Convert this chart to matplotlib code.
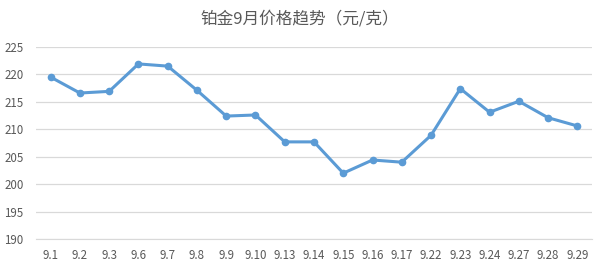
import matplotlib.pyplot as plt

plt.rcParams['font.family'] = ['Noto Sans CJK SC', 'DejaVu Sans']

dates = ['9.1', '9.2', '9.3', '9.6', '9.7', '9.8', '9.9', '9.10', '9.13', '9.14',
         '9.15', '9.16', '9.17', '9.22', '9.23', '9.24', '9.27', '9.28', '9.29']
prices = [219.5, 216.6, 216.9, 221.9, 221.5, 217.1, 212.4, 212.6, 207.7, 207.7,
          202.0, 204.4, 204.0, 208.9, 217.4, 213.1, 215.1, 212.1, 210.6]
yticks = [190, 195, 200, 205, 210, 215, 220, 225]

fig = plt.figure(figsize=(6.05, 2.68), dpi=100)
ax = fig.add_axes([36 / 605, 0.108, 556 / 605, 0.717])

x = list(range(len(dates)))
ax.plot(x, prices, color='#5b9bd5', linewidth=2.2, marker='o', markersize=4.5)

ax.set_xlim(-0.5, len(dates) - 0.5)
ax.set_ylim(190, 225)
ax.set_yticks(yticks)
ax.set_xticks(x)
ax.set_xticklabels(dates)
ax.grid(axis='y', color='#d9d9d9', linewidth=0.9)
ax.set_axisbelow(True)
for s in ['top', 'right', 'left']:
    ax.spines[s].set_visible(False)
ax.spines['bottom'].set_color('#d9d9d9')
ax.tick_params(length=0, labelsize=8.3, colors='#595959', pad=7)
ax.tick_params(axis='y', pad=9)

fig.text(0.495, 0.93, '铂金9月价格趋势（元/克）', ha='center', va='center',
         fontsize=12, color='#595959')

plt.savefig('out.png', dpi=100)
